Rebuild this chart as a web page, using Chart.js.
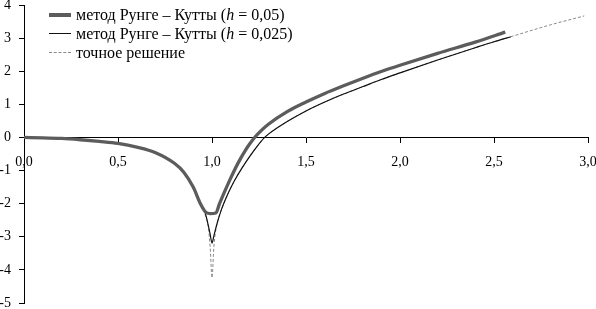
<!DOCTYPE html>
<html>
<head>
<meta charset="utf-8">
<script src="https://cdn.jsdelivr.net/npm/chart.js@4/dist/chart.umd.min.js"></script>
<style>
    html, body { margin: 0; padding: 0; background: #fff; }
    #wrap { position: relative; width: 596px; height: 309px; }
    #legend { position: absolute; left: 49px; top: 5px; font-family: 'Liberation Serif', serif; font-size: 16px; color: #000; }
    .row { height: 19px; line-height: 19px; white-space: nowrap; display: flex; align-items: center; }
    .sample { width: 22px; margin-right: 5px; flex: none; }
    .thick { height: 4px; background: #5c5c5c; }
    .thin { height: 0; border-top: 1.2px solid #111; }
    .dash { height: 0; border-top: 1px dashed #888; }
</style>
</head>
<body>
<div id="wrap">
    <canvas id="chart" width="596" height="309"></canvas>
    <div id="legend">
        <div class="row"><span class="sample thick"></span><span>метод Рунге – Кутты (<i>h</i> = 0,05)</span></div>
        <div class="row"><span class="sample thin"></span><span>метод Рунге – Кутты (<i>h</i> = 0,025)</span></div>
        <div class="row"><span class="sample dash"></span><span>точное решение</span></div>
    </div>
</div>
<script>
// axis ticks
const xTickValues = [0, 0.5, 1, 1.5, 2, 2.5, 3];
const xTickLabels = ['0,0', '0,5', '1,0', '1,5', '2,0', '2,5', '3,0'];
const yTickValues = [-5, -4, -3, -2, -1, 0, 1, 2, 3, 4];
const yTickLabels = ['-5', '-4', '-3', '-2', '-1', '0', '1', '2', '3', '4'];

// Runge-Kutta, h = 0,05
const rk05X = [0, 0.1, 0.2, 0.3, 0.4, 0.5, 0.6, 0.7, 0.8, 0.85, 0.9, 0.94, 0.965, 0.99, 1.02,
    1.04, 1.07, 1.1, 1.14, 1.18, 1.2, 1.23, 1.26, 1.3, 1.4, 1.5, 1.6, 1.7, 1.8, 1.9, 2.0, 2.2, 2.4, 2.56];
const rk05Y = [0, -0.01, -0.03, -0.07, -0.12, -0.18, -0.29, -0.46, -0.78, -1.05, -1.5, -2.02, -2.25, -2.3, -2.28,
    -2.0, -1.6, -1.22, -0.76, -0.37, -0.2, 0.02, 0.2, 0.4, 0.78, 1.07, 1.33, 1.56, 1.78, 1.99, 2.18, 2.54, 2.88, 3.18];

// Runge-Kutta, h = 0,025
const rk025X = [0, 0.1, 0.2, 0.3, 0.4, 0.5, 0.6, 0.7, 0.8, 0.85, 0.9, 0.94, 0.965, 0.98, 0.99, 1.0, 1.01,
    1.027, 1.05, 1.08, 1.1, 1.12, 1.16, 1.2, 1.24, 1.28, 1.3, 1.4, 1.5, 1.6, 1.7, 1.8, 1.9, 2.0, 2.2, 2.4, 2.5, 2.59];
const rk025Y = [0, -0.01, -0.03, -0.07, -0.12, -0.18, -0.29, -0.46, -0.78, -1.05, -1.5, -2.02, -2.3, -2.65, -2.92, -3.19, -2.97,
    -2.6, -2.18, -1.76, -1.52, -1.3, -0.92, -0.58, -0.27, 0, 0.1, 0.48, 0.8, 1.07, 1.31, 1.53, 1.75, 1.95, 2.34, 2.71, 2.89, 3.04];

// exact solution
const exactX = [0, 0.1, 0.2, 0.3, 0.4, 0.5, 0.6, 0.7, 0.8, 0.85, 0.9, 0.94, 0.97, 0.98, 0.99, 1.0, 1.01,
    1.02, 1.03, 1.05, 1.08, 1.1, 1.12, 1.16, 1.2, 1.24, 1.28, 1.3, 1.4, 1.5, 1.6, 1.7, 1.8, 1.9, 2.0, 2.2, 2.4, 2.6, 2.8, 2.98];
const exactY = [0, -0.01, -0.03, -0.07, -0.12, -0.18, -0.29, -0.46, -0.78, -1.05, -1.5, -2.02, -2.45, -2.7, -3.3, -4.24, -3.3,
    -2.8, -2.52, -2.18, -1.76, -1.52, -1.3, -0.92, -0.58, -0.27, 0, 0.1, 0.48, 0.8, 1.07, 1.31, 1.53, 1.75, 1.95, 2.34, 2.71, 3.06, 3.4, 3.67];

const toPoints = (xs, ys) => xs.map((x, i) => ({ x, y: ys[i] }));

const tickFont = { family: "'Liberation Serif', serif", size: 14 };

new Chart(document.getElementById('chart').getContext('2d'), {
    type: 'line',
    data: {
        datasets: [
            {
                label: 'метод Рунге – Кутты (h = 0,05)',
                data: toPoints(rk05X, rk05Y),
                borderColor: '#5c5c5c',
                borderWidth: 3.3,
                order: 0,
            },
            {
                label: 'метод Рунге – Кутты (h = 0,025)',
                data: toPoints(rk025X, rk025Y),
                borderColor: '#111',
                borderWidth: 1.2,
                order: 1,
            },
            {
                label: 'точное решение',
                data: toPoints(exactX, exactY),
                borderColor: '#888',
                borderWidth: 1,
                borderDash: [3, 2],
                order: 2,
            },
        ],
    },
    options: {
        responsive: false,
        animation: false,
        devicePixelRatio: 1,
        layout: { padding: { left: 0, right: 8, top: 5, bottom: 6 } },
        elements: {
            point: { radius: 0 },
            line: { cubicInterpolationMode: 'monotone', fill: false },
        },
        plugins: { legend: { display: false }, tooltip: { enabled: false } },
        scales: {
            x: {
                type: 'linear',
                min: 0,
                max: 3,
                position: { y: 0 },
                afterBuildTicks: (s) => { s.ticks = xTickValues.map(v => ({ value: v })); },
                afterFit: (s) => { s.height = 0; s.paddingLeft = 0; s.paddingRight = 0; },
                ticks: {
                    callback: (v, i) => xTickLabels[i],
                    font: tickFont,
                    color: '#000',
                    padding: 11,
                    maxRotation: 0,
                    autoSkip: false,
                },
                grid: { drawOnChartArea: false, tickLength: 5, tickColor: '#000' },
                border: { color: '#000', width: 1 },
            },
            y: {
                type: 'linear',
                min: -5,
                max: 4,
                afterBuildTicks: (s) => { s.ticks = yTickValues.map(v => ({ value: v })); },
                afterFit: (s) => { s.width = 24; s.paddingTop = 0; s.paddingBottom = 0; },
                ticks: {
                    callback: (v, i) => yTickLabels[i],
                    font: tickFont,
                    color: '#000',
                    padding: 8,
                },
                grid: { drawOnChartArea: false, tickLength: 5, tickColor: '#000' },
                border: { color: '#000', width: 1 },
            },
        },
    },
});
</script>
</body>
</html>
